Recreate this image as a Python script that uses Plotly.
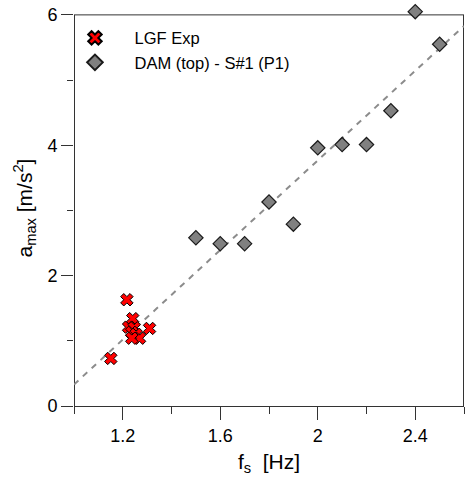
import plotly.graph_objects as go

# LGF experimental points
lgf_fs = [1.151, 1.217, 1.241, 1.224, 1.247, 1.31, 1.237, 1.255, 1.269, 1.237]
lgf_amax = [0.73, 1.63, 1.34, 1.21, 1.20, 1.19, 1.13, 1.10, 1.04, 1.04]

# DAM (top) - S#1 (P1)
dam_fs = [1.5, 1.6, 1.7, 1.8, 1.9, 2.0, 2.1, 2.2, 2.3, 2.4, 2.5]
dam_amax = [2.58, 2.49, 2.49, 3.13, 2.79, 3.96, 4.01, 4.01, 4.53, 6.05, 5.55]

# trend line
fit_fs = [1.0, 2.6]
fit_amax = [0.33, 5.83]

x_ticks = [1.2, 1.6, 2.0, 2.4]
x_ticklabels = ["1.2", "1.6", "2", "2.4"]
y_ticks = [0, 2, 4, 6]

X_MIN, X_MAX = 1.0, 2.6
Y_MIN, Y_MAX = 0, 6          # visible frame
Y_TOP_EXT = 6.075            # slight extension so the 6.05 point is drawn

FONT = "Arial, Liberation Sans, sans-serif"
AX = "#333333"
PAD = "\u00a0"

fig = go.Figure()

# frame (left, top, right) drawn at the visible axis limits
fig.add_trace(go.Scatter(
    x=[X_MIN, X_MIN], y=[Y_MIN, Y_MAX], mode="lines", showlegend=False,
    hoverinfo="skip", line=dict(color=AX, width=2),
))
fig.add_trace(go.Scatter(
    x=[X_MAX, X_MAX], y=[Y_MIN, Y_MAX], mode="lines", showlegend=False,
    hoverinfo="skip", line=dict(color=AX, width=2),
))
fig.add_trace(go.Scatter(
    x=[X_MIN, X_MAX], y=[Y_MAX, Y_MAX], mode="lines", showlegend=False,
    hoverinfo="skip", line=dict(color=AX, width=1),
))

fig.add_trace(go.Scatter(
    x=fit_fs, y=fit_amax, mode="lines", showlegend=False,
    line=dict(color="#8c8c8c", width=2, dash="6px,6px"),
))
fig.add_trace(go.Scatter(
    x=dam_fs, y=dam_amax, mode="markers", name=PAD + "DAM (top) - S#1 (P1)",
    cliponaxis=False,
    marker=dict(symbol="diamond", size=11, color="#808080",
                line=dict(color="#1a1a1a", width=1.2)),
))
fig.add_trace(go.Scatter(
    x=lgf_fs, y=lgf_amax, mode="markers", name=PAD + "LGF Exp",
    cliponaxis=False,
    marker=dict(symbol="x", size=11, color="#ff0000",
                line=dict(color="#000000", width=1)),
))

fig.update_layout(
    width=465, height=481,
    margin=dict(l=74, r=1, t=10, b=75, autoexpand=False),
    paper_bgcolor="white", plot_bgcolor="white",
    font=dict(family=FONT, size=18, color="#000000"),
    legend=dict(x=-0.036, y=0.973, xanchor="left", yanchor="top",
                traceorder="reversed", bgcolor="rgba(0,0,0,0)",
                font=dict(size=16.5), itemsizing="constant", tracegroupgap=0,
                itemwidth=60),
    xaxis=dict(
        range=[X_MIN, X_MAX], tickvals=x_ticks, ticktext=x_ticklabels,
        ticks="outside", ticklen=13, tickwidth=1, tickcolor=AX,
        minor=dict(tick0=1.0, dtick=0.2, ticks="outside", ticklen=7, tickcolor=AX),
        showline=True, linecolor=AX, linewidth=1, mirror=False,
        showgrid=False, zeroline=False, automargin=False,
        title=dict(text="f<sub>s</sub>  [Hz]", font=dict(size=21), standoff=9),
    ),
    yaxis=dict(
        range=[Y_MIN, Y_TOP_EXT], tickvals=y_ticks,
        ticks="outside", ticklen=12, tickwidth=1, tickcolor=AX,
        minor=dict(tick0=0, dtick=1, ticks="outside", ticklen=6, tickcolor=AX),
        showline=False,
        showgrid=False, zeroline=False, automargin=False,
        title=dict(text="a<sub>max</sub> [m/s<sup>2</sup>]", font=dict(size=21), standoff=9),
    ),
)

fig.write_html(
    "out.html",
    config={"displayModeBar": False},
    post_script="document.body.style.margin='0';document.body.style.overflow='hidden';",
)
